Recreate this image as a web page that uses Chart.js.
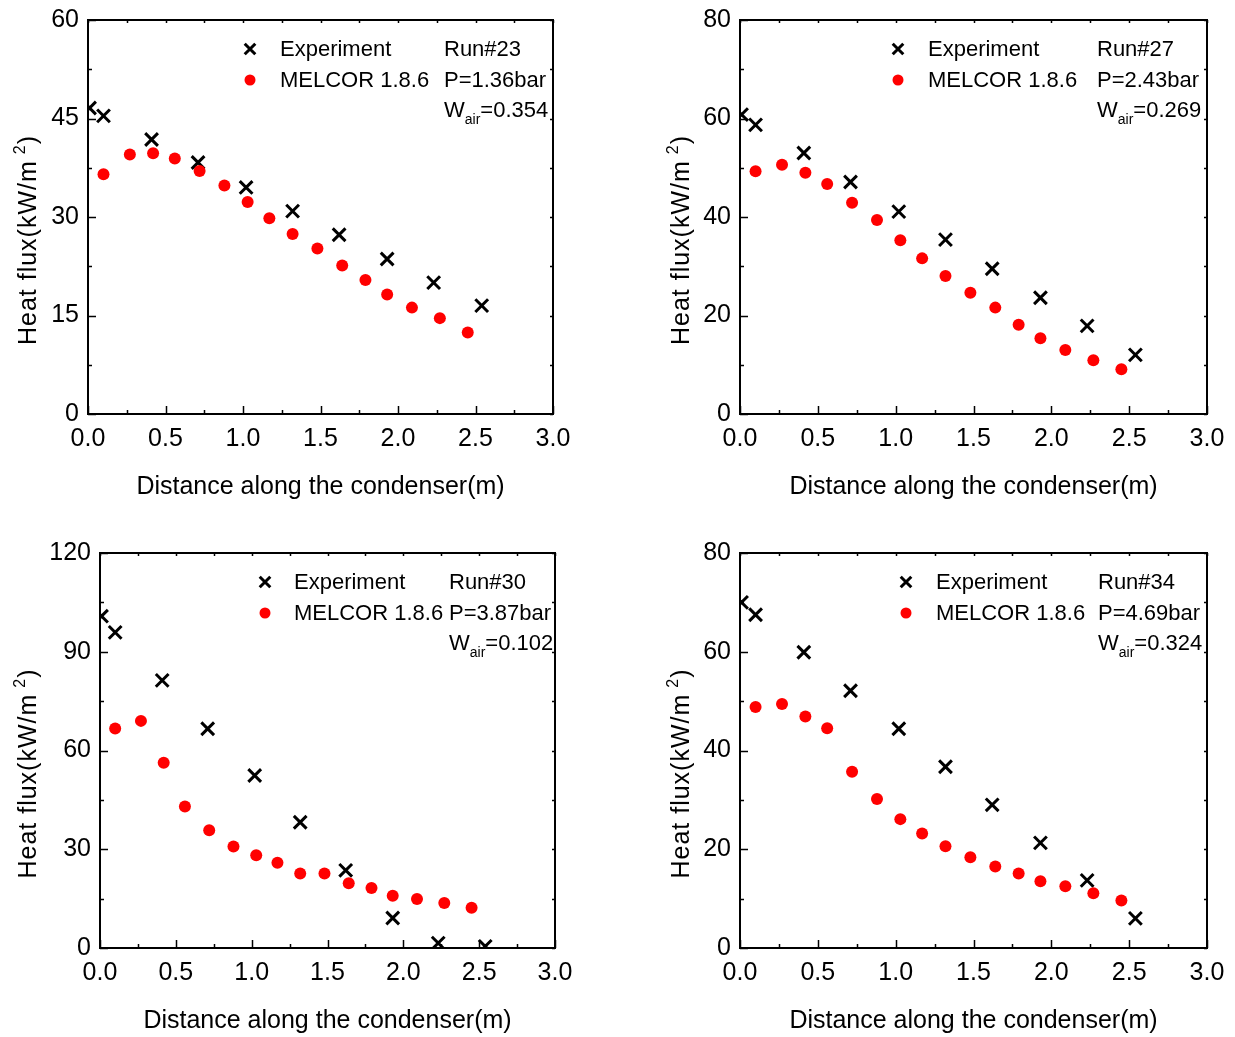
<!DOCTYPE html>
<html>
<head>
<meta charset="utf-8">
<script src="https://cdn.jsdelivr.net/npm/chart.js@4.4.1/dist/chart.umd.min.js"></script>
<style>
  html, body { margin: 0; padding: 0; background: #fff; }
  #wrap { position: relative; width: 1235px; height: 1037px; }
  #wrap canvas { position: absolute; }
</style>
</head>
<body>
<div id="wrap">
  <canvas id="run23" width="617" height="518" style="left:0;top:0"></canvas>
  <canvas id="run27" width="618" height="518" style="left:617px;top:0"></canvas>
  <canvas id="run30" width="617" height="519" style="left:0;top:518px"></canvas>
  <canvas id="run34" width="618" height="519" style="left:617px;top:518px"></canvas>
</div>
<script>
// measurement stations along the condenser (m)
const expX = [0.01, 0.1, 0.41, 0.71, 1.02, 1.32, 1.62, 1.93, 2.23, 2.54];
const melX = [0.1, 0.27, 0.42, 0.56, 0.72, 0.88, 1.03, 1.17, 1.32, 1.48, 1.64, 1.79, 1.93, 2.09, 2.27, 2.45];

// heat flux, kW/m2
const run23Exp = [46.6, 45.4, 41.8, 38.3, 34.5, 30.9, 27.3, 23.6, 20.0, 16.5];
const run23Mel = [36.5, 39.5, 39.7, 38.9, 37.0, 34.8, 32.3, 29.8, 27.4, 25.2, 22.6, 20.4, 18.2, 16.2, 14.6, 12.4];
const run27Exp = [60.8, 58.7, 53.0, 47.1, 41.1, 35.4, 29.5, 23.6, 17.9, 12.0];
const run27Mel = [49.3, 50.6, 49.0, 46.7, 42.9, 39.4, 35.3, 31.6, 28.0, 24.6, 21.6, 18.1, 15.4, 13.0, 10.9, 9.1];
const run30Exp = [100.8, 95.9, 81.3, 66.6, 52.4, 38.2, 23.6, 9.1, 1.5, 0.5];
const run30Mel = [66.7, 69.0, 56.3, 43.0, 35.8, 30.8, 28.2, 25.9, 22.6, 22.6, 19.7, 18.2, 15.9, 14.9, 13.7, 12.2];
const run34Exp = [70.0, 67.5, 59.9, 52.1, 44.4, 36.7, 29.0, 21.3, 13.7, 6.0];
const run34Mel = [48.8, 49.4, 46.9, 44.5, 35.7, 30.2, 26.1, 23.2, 20.6, 18.4, 16.5, 15.1, 13.5, 12.5, 11.1, 9.6];

// run conditions
const runNames = ["Run#23", "Run#27", "Run#30", "Run#34"];
const pressures = ["P=1.36bar", "P=2.43bar", "P=3.87bar", "P=4.69bar"];
const airFractions = ["0.354", "0.269", "0.102", "0.324"];
const yMax = [60, 80, 120, 80];
const yStep = [15, 20, 30, 20];

const FONT = "'Liberation Sans', Arial, sans-serif";

// plot box inside each canvas: left, top, right, bottom
const boxes = [
  { l: 88, t: 20, r: 553, b: 414, titleX: 27, legX: 162, txtX: 192, colX: 356 },
  { l: 123, t: 20, r: 590, b: 414, titleX: 63, legX: 158, txtX: 188, colX: 357 },
  { l: 100, t: 35, r: 555, b: 430, titleX: 27, legX: 165, txtX: 194, colX: 349 },
  { l: 123, t: 35, r: 590, b: 430, titleX: 63, legX: 166, txtX: 196, colX: 358 },
];

function pts(xs, ys) {
  return xs.map((x, i) => ({ x, y: ys[i] }));
}

function drawMarker(ctx, style, r, bw, color, x, y) {
  ctx.save();
  ctx.strokeStyle = color;
  ctx.fillStyle = color;
  ctx.lineWidth = bw;
  if (style === "crossRot") {
    const d = r * Math.SQRT1_2;
    ctx.beginPath();
    ctx.moveTo(x - d, y - d); ctx.lineTo(x + d, y + d);
    ctx.moveTo(x - d, y + d); ctx.lineTo(x + d, y - d);
    ctx.stroke();
  } else {
    ctx.beginPath();
    ctx.arc(x, y, r, 0, Math.PI * 2);
    ctx.fill();
  }
  ctx.restore();
}

// frame, inward ticks, axis titles and legend block
const decor = {
  id: "decor",
  afterDraw(chart, args, opts) {
    const { ctx, chartArea: a, scales } = chart;
    const xs = scales.x, ys = scales.y;
    const box = opts.box;
    ctx.save();
    ctx.strokeStyle = "#000";
    ctx.lineWidth = 1.5;
    // x ticks
    for (let v = 0; v <= 3.0001; v += 0.25) {
      const px = Math.round(xs.getPixelForValue(v)) + 0.5;
      const major = Math.abs(v * 2 - Math.round(v * 2)) < 1e-6;
      ctx.beginPath();
      ctx.moveTo(px, a.bottom); ctx.lineTo(px, a.bottom - (major ? 8 : 4));
      ctx.moveTo(px, a.top); ctx.lineTo(px, a.top + 3);
      ctx.stroke();
    }
    // y ticks
    const half = opts.step / 2;
    for (let i = 0; i * half <= opts.max + 1e-6; i++) {
      const py = Math.round(ys.getPixelForValue(i * half)) + 0.5;
      const major = i % 2 === 0;
      ctx.beginPath();
      ctx.moveTo(a.left, py); ctx.lineTo(a.left + (major ? 8 : 4), py);
      ctx.moveTo(a.right, py); ctx.lineTo(a.right - 3, py);
      ctx.stroke();
    }
    // frame
    ctx.lineWidth = 2;
    ctx.strokeRect(a.left, a.top, a.right - a.left, a.bottom - a.top);

    ctx.fillStyle = "#000";
    ctx.textBaseline = "alphabetic";

    // x title
    ctx.font = "25px " + FONT;
    ctx.textAlign = "center";
    ctx.fillText("Distance along the condenser(m)", (a.left + a.right) / 2, a.bottom + 80);

    // y title with superscript
    ctx.save();
    ctx.translate(box.titleX, (a.top + a.bottom) / 2 + 23);
    ctx.rotate(-Math.PI / 2);
    ctx.textAlign = "left";
    ctx.letterSpacing = "1px";
    ctx.font = "25px " + FONT;
    const main = "Heat flux(kW/m";
    const wMain = ctx.measureText(main).width;
    ctx.font = "16px " + FONT;
    const wSup = ctx.measureText("2").width;
    ctx.font = "25px " + FONT;
    const wClose = ctx.measureText(")").width;
    const gap = 6;
    let x0 = -(wMain + gap + wSup + wClose) / 2;
    ctx.fillText(main, x0, 9);
    ctx.font = "16px " + FONT;
    ctx.fillText("2", x0 + wMain + gap, -2);
    ctx.font = "25px " + FONT;
    ctx.fillText(")", x0 + wMain + gap + wSup, 9);
    ctx.restore();

    // legend
    const ds = chart.data.datasets;
    const lx = a.left + box.legX;
    drawMarker(ctx, "crossRot", 7.5, 3, ds[1].borderColor, lx, a.top + 29);
    drawMarker(ctx, "circle", 5.5, 0, ds[0].backgroundColor, lx, a.top + 60);
    ctx.font = "22px " + FONT;
    ctx.textAlign = "left";
    ctx.fillText(ds[1].label, a.left + box.txtX, a.top + 36);
    ctx.fillText(ds[0].label, a.left + box.txtX, a.top + 67);

    // run conditions
    const cx = a.left + box.colX;
    ctx.fillText(opts.run, cx, a.top + 36);
    ctx.fillText(opts.pressure, cx, a.top + 67);
    ctx.fillText("W", cx, a.top + 97);
    const wW = ctx.measureText("W").width;
    ctx.font = "14px " + FONT;
    ctx.fillText("air", cx + wW, a.top + 104);
    const wAir = ctx.measureText("air").width;
    ctx.font = "22px " + FONT;
    ctx.fillText("=" + opts.wair, cx + wW + wAir, a.top + 97);
    ctx.restore();
  },
};

function buildPanel(id, idx, expY, melY) {
  const canvas = document.getElementById(id);
  const box = boxes[idx];
  const W = canvas.width, H = canvas.height;
  new Chart(canvas, {
    type: "scatter",
    data: {
      datasets: [
        {
          label: "MELCOR 1.8.6",
          data: pts(melX, melY),
          pointStyle: "circle",
          pointRadius: 6,
          pointBorderWidth: 0,
          backgroundColor: "#ff0000",
          borderColor: "#ff0000",
          clip: 0,
          order: 0,
        },
        {
          label: "Experiment",
          data: pts(expX, expY),
          pointStyle: "crossRot",
          pointRadius: 9,
          pointBorderWidth: 3,
          backgroundColor: "#000",
          borderColor: "#000",
          clip: 0,
          order: 1,
        },
      ],
    },
    options: {
      responsive: false,
      animation: false,
      events: [],
      layout: { padding: { left: 0, top: box.t, right: W - box.r, bottom: 0 } },
      plugins: {
        legend: { display: false },
        tooltip: { enabled: false },
        decor: {
          box,
          max: yMax[idx],
          step: yStep[idx],
          run: runNames[idx],
          pressure: pressures[idx],
          wair: airFractions[idx],
        },
      },
      scales: {
        x: {
          type: "linear",
          min: 0,
          max: 3,
          grid: { display: false, drawTicks: false },
          border: { display: false },
          ticks: {
            stepSize: 0.5,
            padding: 10,
            color: "#000",
            font: { family: FONT, size: 25 },
            maxRotation: 0,
            callback: (v) => v.toFixed(1),
          },
          afterFit: (s) => { s.height = H - box.b; s.paddingLeft = 0; s.paddingRight = 0; },
        },
        y: {
          min: 0,
          max: yMax[idx],
          grid: { display: false, drawTicks: false },
          border: { display: false },
          ticks: {
            stepSize: yStep[idx],
            padding: 9,
            color: "#000",
            font: { family: FONT, size: 25 },
          },
          // the top label may poke above the frame; keep the frame where it is
          afterFit: (s) => { s.width = box.l; s.paddingTop = 0; s.paddingBottom = 0; },
        },
      },
    },
    plugins: [decor],
  });
}

buildPanel("run23", 0, run23Exp, run23Mel);
buildPanel("run27", 1, run27Exp, run27Mel);
buildPanel("run30", 2, run30Exp, run30Mel);
buildPanel("run34", 3, run34Exp, run34Mel);
</script>
</body>
</html>
